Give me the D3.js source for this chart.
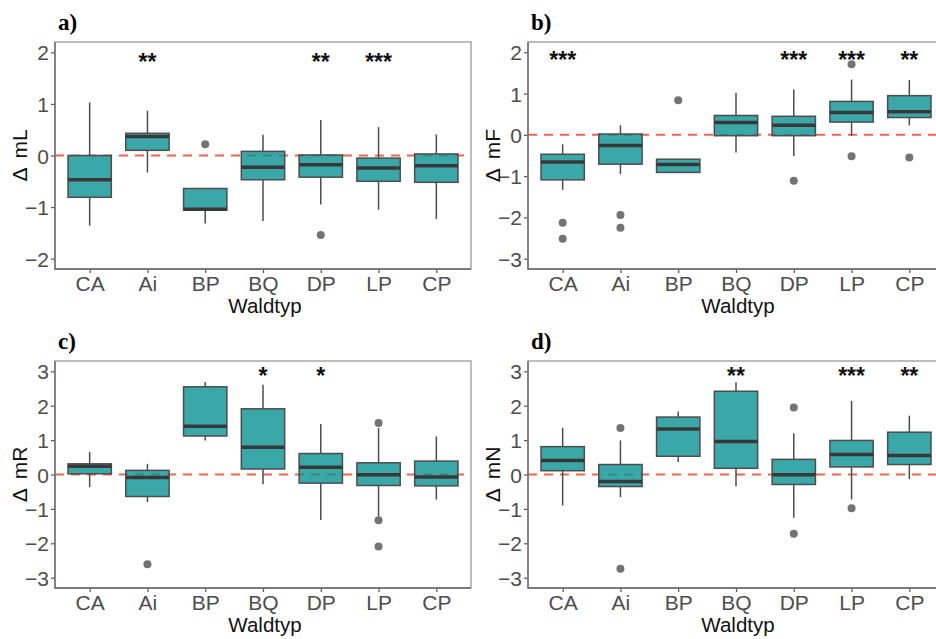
<!DOCTYPE html>
<html>
<head>
<meta charset="utf-8">
<script src="https://cdn.jsdelivr.net/npm/d3@7"></script>
<style>
  body { margin: 0; background: #fff; }
  text { font-family: "Liberation Sans", Arial, sans-serif; }
</style>
</head>
<body>
<svg id="chart" width="936" height="639"></svg>
<script>
const waldtyp = ["CA", "Ai", "BP", "BQ", "DP", "LP", "CP"];

// per forest type: [lower whisker, Q1, median, Q3, upper whisker]
const boxL = [[-1.36, -0.81, -0.47, 0.0, 1.03], [-0.33, 0.10, 0.37, 0.43, 0.87], [-1.32, -1.06, -1.04, -0.64, -0.64],
  [-1.27, -0.47, -0.23, 0.08, 0.40], [-0.95, -0.42, -0.18, 0.01, 0.69], [-1.05, -0.50, -0.24, -0.05, 0.55], [-1.23, -0.52, -0.20, 0.03, 0.41]];
const outL = [[], [], [0.22], [], [-1.54], [], []];
const starsL = ["", "**", "", "", "**", "***", ""];

const boxF = [[-1.33, -1.09, -0.66, -0.47, -0.23], [-0.95, -0.71, -0.26, 0.02, 0.23], [-0.91, -0.91, -0.72, -0.59, -0.59],
  [-0.43, -0.02, 0.30, 0.47, 1.02], [-0.51, -0.02, 0.23, 0.45, 1.10], [-0.02, 0.31, 0.54, 0.81, 1.34], [0.23, 0.42, 0.56, 0.95, 1.33]];
const outF = [[-2.13, -2.52], [-1.94, -2.25], [0.84], [], [-1.11], [1.71, -0.52], [-0.55]];
const starsF = ["***", "", "", "", "***", "***", "**"];

const boxR = [[-0.37, 0.02, 0.24, 0.31, 0.66], [-0.80, -0.64, -0.09, 0.12, 0.31], [0.99, 1.12, 1.40, 2.55, 2.69],
  [-0.28, 0.16, 0.79, 1.91, 2.61], [-1.32, -0.25, 0.21, 0.61, 1.47], [-1.22, -0.32, -0.01, 0.34, 1.35], [-0.73, -0.33, -0.07, 0.39, 1.11]];
const outR = [[], [-2.61], [], [], [], [1.50, -1.33, -2.09], []];
const starsR = ["", "", "", "*", "*", "", ""];

const boxN = [[-0.90, 0.11, 0.41, 0.81, 1.36], [-0.66, -0.35, -0.20, 0.29, 0.99], [0.36, 0.53, 1.32, 1.67, 1.83],
  [-0.34, 0.18, 0.96, 2.42, 2.68], [-1.26, -0.29, -0.01, 0.44, 1.20], [-0.73, 0.22, 0.58, 0.99, 2.14], [-0.13, 0.29, 0.55, 1.23, 1.71]];
const outN = [[], [1.35, -2.74], [], [], [1.95, -1.72], [-0.98], []];
const starsN = ["", "", "", "**", "", "***", "**"];

const ticksL = [-2, -1, 0, 1, 2];
const ticksF = [-3, -2, -1, 0, 1, 2];
const ticksRN = [-3, -2, -1, 0, 1, 2, 3];

const panels = [
  {tag: "a)", lab: "mL", box: boxL, out: outL, stars: starsL, starY: 1.86, ydom: [-2.2, 2.2], ticks: ticksL, left: 55, top: 42},
  {tag: "b)", lab: "mF", box: boxF, out: outF, stars: starsF, starY: 1.87, ydom: [-3.25, 2.25], ticks: ticksF, left: 528, top: 42},
  {tag: "c)", lab: "mR", box: boxR, out: outR, stars: starsR, starY: 2.93, ydom: [-3.3, 3.3], ticks: ticksRN, left: 55, top: 361},
  {tag: "d)", lab: "mN", box: boxN, out: outN, stars: starsN, starY: 2.93, ydom: [-3.3, 3.3], ticks: ticksRN, left: 528, top: 361}
];

const W = 416, H = 227;
const svg = d3.select("#chart");

function drawPanel(p) {
  const x = d3.scalePoint().domain(waldtyp).range([p.left, p.left + W]).padding(0.6);
  const y = d3.scaleLinear().domain(p.ydom).range([p.top + H, p.top]);
  const bw = x.step() * 0.75;
  const g = svg.append("g");

  // axes
  const ya = g.append("g").attr("transform", `translate(${p.left},0)`)
    .call(d3.axisLeft(y).tickValues(p.ticks).tickSize(4).tickPadding(2).tickFormat(d3.format("d")));
  const xa = g.append("g").attr("transform", `translate(0,${p.top + H})`)
    .call(d3.axisBottom(x).tickSize(4).tickPadding(3));
  [ya, xa].forEach(a => {
    a.select(".domain").remove();
    a.selectAll(".tick line").attr("stroke", "#555").attr("stroke-width", 1.2);
    a.selectAll(".tick text").attr("fill", "#4d4d4d").style("font-size", "21px")
      .style("font-family", "'Liberation Sans', Arial, sans-serif");
  });
  ya.selectAll(".tick text").attr("dy", "0.36em");

  // zero line
  g.append("line").attr("x1", p.left).attr("x2", p.left + W)
    .attr("y1", y(0)).attr("y2", y(0))
    .attr("stroke", "#f5634a").attr("stroke-width", 2).attr("stroke-dasharray", "9,7");

  const items = waldtyp.map((k, i) => ({k, s: p.box[i], o: p.out[i], st: p.stars[i]}));
  const bx = g.selectAll(".bx").data(items).join("g");

  bx.append("line").attr("x1", d => x(d.k)).attr("x2", d => x(d.k))
    .attr("y1", d => y(d.s[4])).attr("y2", d => y(d.s[3]))
    .attr("stroke", "#4d4d4d").attr("stroke-width", 1.5);
  bx.append("line").attr("x1", d => x(d.k)).attr("x2", d => x(d.k))
    .attr("y1", d => y(d.s[1])).attr("y2", d => y(d.s[0]))
    .attr("stroke", "#4d4d4d").attr("stroke-width", 1.5);
  bx.append("rect").attr("x", d => x(d.k) - bw / 2).attr("width", bw)
    .attr("y", d => y(d.s[3])).attr("height", d => y(d.s[1]) - y(d.s[3]))
    .attr("fill", "rgb(9,146,146)").attr("fill-opacity", 0.8)
    .attr("stroke", "#4d4d4d").attr("stroke-width", 1.5);
  bx.append("line").attr("x1", d => x(d.k) - bw / 2).attr("x2", d => x(d.k) + bw / 2)
    .attr("y1", d => y(d.s[2])).attr("y2", d => y(d.s[2]))
    .attr("stroke", "#383838").attr("stroke-width", 3.5);
  bx.selectAll("circle").data(d => d.o.map(v => ({k: d.k, v}))).join("circle")
    .attr("cx", d => x(d.k)).attr("cy", d => y(d.v)).attr("r", 4)
    .attr("fill", "#737373");
  bx.append("text").attr("x", d => x(d.k)).attr("y", y(p.starY) + 10)
    .attr("text-anchor", "middle").style("font-size", "23px").style("font-weight", "bold")
    .attr("fill", "#111").text(d => d.st);

  // panel border
  g.append("rect").attr("x", p.left).attr("y", p.top).attr("width", W).attr("height", H)
    .attr("fill", "none").attr("stroke", "#9a9a9a").attr("stroke-width", 1.3);
  g.append("path").attr("d", `M${p.left},${p.top}V${p.top + H}H${p.left + W}`)
    .attr("fill", "none").attr("stroke", "#666").attr("stroke-width", 1.3);

  // titles
  g.append("text").attr("x", p.left + W / 2 + 2).attr("y", p.top + H + 44)
    .attr("text-anchor", "middle").style("font-size", "20.5px").attr("fill", "#111").text("Waldtyp");
  const yl = g.append("text").attr("transform", `translate(${p.left - 28},${p.top + H / 2}) rotate(-90)`)
    .attr("text-anchor", "middle").style("font-size", "21px").attr("fill", "#111");
  yl.append("tspan").text("\u0394");
  yl.append("tspan").attr("dx", 9).text(p.lab);
  g.append("text").attr("x", p.left + 3).attr("y", p.top - 12)
    .style("font-family", "'Liberation Serif', 'Times New Roman', serif")
    .style("font-size", "23px").style("font-weight", "bold").attr("fill", "#000").text(p.tag);
}

panels.forEach(drawPanel);
</script>
</body>
</html>
